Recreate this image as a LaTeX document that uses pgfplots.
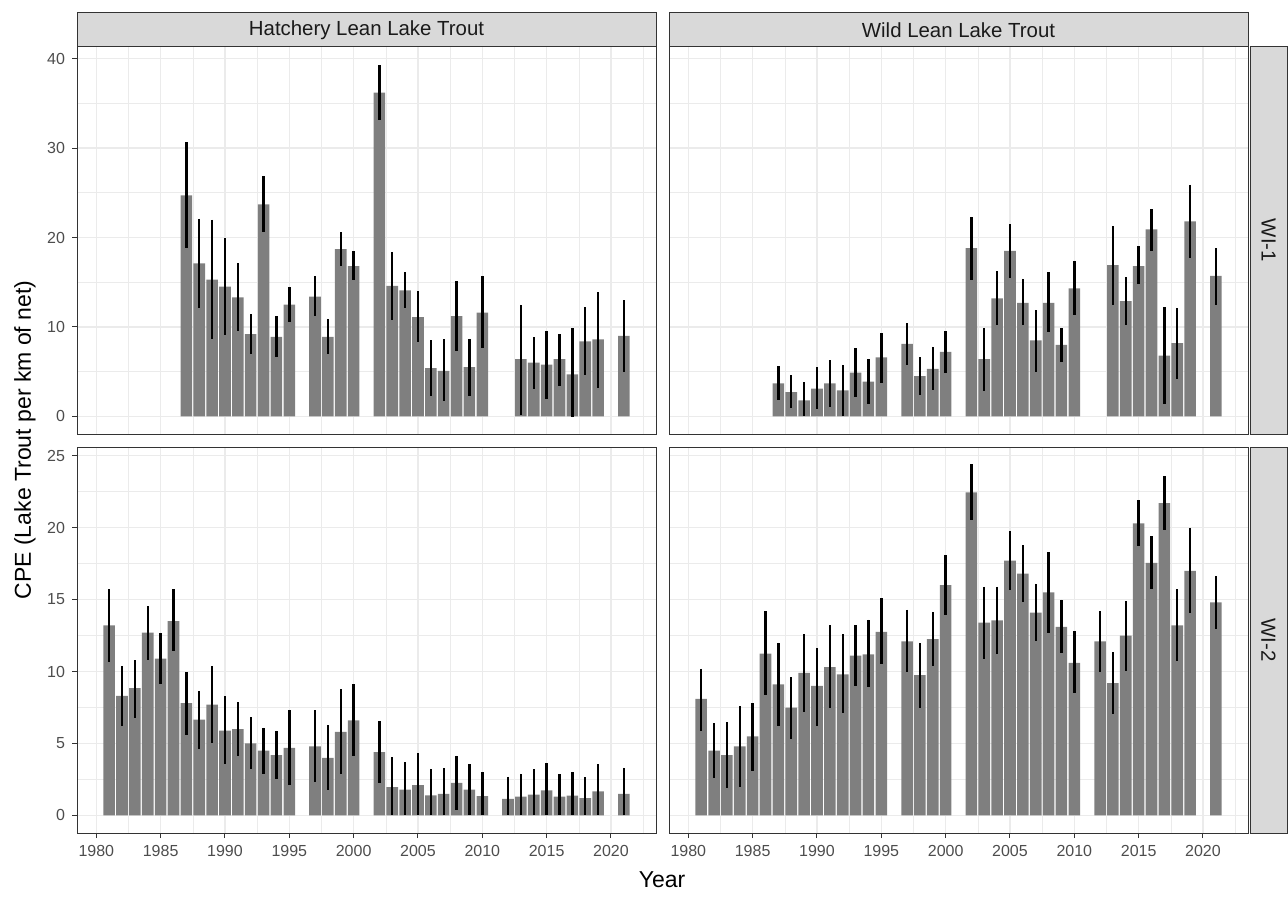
\documentclass[border=0pt]{standalone}
\usepackage{fontspec}
\setmainfont{Liberation Sans}
\usepackage{pgfplots}
\usepackage{pgfplotstable}
\pgfplotsset{compat=1.18}

\definecolor{barfill}{HTML}{7F7F7F}
\definecolor{gridc}{HTML}{EBEBEB}
\definecolor{borderc}{HTML}{333333}
\definecolor{stripc}{HTML}{D9D9D9}
\definecolor{stript}{HTML}{1A1A1A}
\definecolor{tickc}{HTML}{4D4D4D}

\pgfplotstableread{
yr v lo hi
1987 24.7 18.8 30.7
1988 17.1 12.1 22.1
1989 15.3 8.7 22.0
1990 14.5 9.1 19.9
1991 13.3 9.6 17.1
1992 9.2 7.0 11.4
1993 23.7 20.6 26.9
1994 8.9 6.6 11.2
1995 12.5 10.5 14.5
1997 13.4 11.2 15.7
1998 8.9 7.0 10.9
1999 18.7 16.8 20.6
2000 16.8 15.3 18.5
2002 36.2 33.1 39.3
2003 14.6 10.8 18.4
2004 14.1 12.1 16.1
2005 11.1 8.3 14.0
2006 5.4 2.3 8.5
2007 5.1 1.7 8.6
2008 11.2 7.3 15.1
2009 5.5 2.3 8.7
2010 11.6 7.7 15.7
2013 6.4 0.1 12.5
2014 6.0 3.1 8.9
2015 5.8 1.9 9.6
2016 6.4 3.4 9.2
2017 4.7 -0.1 9.9
2018 8.4 4.6 12.2
2019 8.6 3.2 13.9
2021 9.0 5.0 13.0
}\hlone

\pgfplotstableread{
yr v lo hi
1987 3.7 1.8 5.6
1988 2.7 0.9 4.6
1989 1.8 0.0 3.8
1990 3.1 0.8 5.5
1991 3.7 1.1 6.3
1992 2.9 0.0 5.8
1993 4.9 2.2 7.6
1994 3.9 1.4 6.4
1995 6.6 3.7 9.3
1997 8.1 5.7 10.4
1998 4.5 2.4 6.6
1999 5.3 3.0 7.8
2000 7.2 4.9 9.5
2002 18.8 15.2 22.3
2003 6.4 2.8 9.9
2004 13.2 10.2 16.2
2005 18.5 15.5 21.5
2006 12.7 10.2 15.4
2007 8.5 5.0 11.9
2008 12.7 9.4 16.1
2009 8.0 6.1 9.9
2010 14.3 11.3 17.4
2013 16.9 12.5 21.3
2014 12.9 10.2 15.6
2015 16.8 14.8 19.0
2016 20.9 18.5 23.2
2017 6.8 1.4 12.2
2018 8.2 4.2 12.1
2019 21.8 17.7 25.9
2021 15.7 12.5 18.8
}\wlone

\pgfplotstableread{
yr v lo hi
1981 13.2 10.65 15.7
1982 8.3 6.2 10.4
1983 8.85 6.8 10.8
1984 12.7 10.8 14.55
1985 10.9 9.15 12.7
1986 13.5 11.4 15.7
1987 7.8 5.6 9.95
1988 6.65 4.65 8.65
1989 7.7 5.0 10.4
1990 5.9 3.6 8.3
1991 6.0 4.1 7.9
1992 5.0 3.2 6.85
1993 4.5 2.9 6.1
1994 4.2 2.5 5.9
1995 4.7 2.1 7.35
1997 4.8 2.35 7.3
1998 4.0 1.75 6.3
1999 5.8 2.9 8.8
2000 6.6 4.1 9.1
2002 4.4 2.25 6.55
2003 1.97 0 4.05
2004 1.8 0 3.7
2005 2.1 0 4.35
2006 1.4 0 3.25
2007 1.5 0 3.3
2008 2.27 0.4 4.15
2009 1.8 0 3.55
2010 1.35 0 3.0
2012 1.15 0 2.7
2013 1.3 0 2.9
2014 1.45 0 3.2
2015 1.75 0 3.65
2016 1.3 0 2.85
2017 1.37 0 3.0
2018 1.2 0 2.65
2019 1.67 0 3.55
2021 1.5 0 3.33
}\hltwo

\pgfplotstableread{
yr v lo hi
1981 8.1 5.9 10.2
1982 4.5 2.6 6.4
1983 4.2 1.9 6.5
1984 4.8 2.0 7.6
1985 5.5 3.1 7.8
1986 11.25 8.4 14.2
1987 9.1 6.2 12.0
1988 7.5 5.3 9.6
1989 9.9 7.2 12.6
1990 9.0 6.25 11.65
1991 10.3 7.5 13.2
1992 9.8 7.1 12.6
1993 11.1 9.0 13.2
1994 11.2 8.9 13.6
1995 12.75 10.5 15.1
1997 12.1 9.95 14.3
1998 9.75 7.5 12.0
1999 12.25 10.4 14.15
2000 16.0 13.9 18.1
2002 22.45 20.5 24.4
2003 13.4 10.9 15.9
2004 13.55 11.2 15.9
2005 17.7 15.65 19.75
2006 16.8 14.85 18.8
2007 14.1 12.1 16.1
2008 15.5 12.7 18.3
2009 13.1 11.3 15.0
2010 10.6 8.5 12.8
2012 12.1 10.0 14.2
2013 9.2 7.05 11.35
2014 12.5 10.05 14.9
2015 20.3 18.7 21.9
2016 17.55 15.7 19.4
2017 21.7 19.8 23.6
2018 13.2 10.7 15.7
2019 17.0 14.05 20.0
2021 14.8 12.95 16.65
}\wltwo

\pgfplotsset{
  panel/.style={
    scale only axis,
    width=289.5pt,
    xmin=1978.5, xmax=2023.5,
    xtick={1980,1985,...,2020},
    minor xtick={1982.5,1987.5,...,2022.5},
    grid=both,
    major grid style={draw=gridc, line width=0.6pt},
    minor grid style={draw=gridc, line width=0.3pt},
    axis line style={draw=borderc, line width=0.5pt},
    tick align=outside,
    major tick length=2.5pt,
    minor tick length=0pt,
    tick style={draw=borderc, line width=0.5pt},
    xtick pos=bottom, ytick pos=left,
    ticklabel style={font=\fontsize{8}{9}\selectfont, text=tickc},
    /pgf/number format/assume math mode=true,
    x tick label style={/pgf/number format/1000 sep={}},
  },
  toprow/.style={
    height=193.5pt,
    ymin=-1.97, ymax=41.3,
    ytick={0,10,20,30,40},
    minor ytick={5,15,25,35},
    xticklabels={},
    xtick style={draw=none},
  },
  botrow/.style={
    height=193pt,
    ymin=-1.22, ymax=25.6,
    ytick={0,5,10,15,20,25},
    minor ytick={2.5,7.5,12.5,17.5,22.5},
  },
  rightcol/.style={
    yticklabels={},
    ytick style={draw=none},
  },
  barplot/.style={
    ybar, bar width=0.9, fill=barfill, draw=none,
    error bars/.cd, y dir=both, y explicit, error mark=none,
    error bar style={draw=black, line width=1.2pt},
  },
}

\newcommand{\bars}[1]{\addplot[barplot] table[x=yr, y=v,
  y error plus expr=\thisrow{hi}-\thisrow{v},
  y error minus expr=\thisrow{v}-\thisrow{lo}] {#1};}

\begin{document}
\begin{tikzpicture}
\useasboundingbox (0pt,0pt) rectangle (644pt,448pt);

\begin{axis}[panel, toprow, at={(38.5pt,231pt)}, anchor=south west]
\bars{\hlone}
\end{axis}
\begin{axis}[panel, toprow, rightcol, at={(334.5pt,231pt)}, anchor=south west]
\bars{\wlone}
\end{axis}
\begin{axis}[panel, botrow, at={(38.5pt,31.5pt)}, anchor=south west]
\bars{\hltwo}
\end{axis}
\begin{axis}[panel, botrow, rightcol, at={(334.5pt,31.5pt)}, anchor=south west]
\bars{\wltwo}
\end{axis}

% facet strips
\draw[draw=borderc, fill=stripc, line width=0.5pt] (38.5pt,424.7pt) rectangle (328pt,441.5pt);
\node[text=stript, font=\fontsize{10.2}{12}\selectfont] at (183.25pt,433.1pt) {Hatchery Lean Lake Trout};
\draw[draw=borderc, fill=stripc, line width=0.5pt] (334.5pt,424.7pt) rectangle (624pt,441.5pt);
\node[text=stript, font=\fontsize{10.2}{12}\selectfont] at (479.25pt,433.1pt) {Wild Lean Lake Trout};
\draw[draw=borderc, fill=stripc, line width=0.5pt] (625pt,231pt) rectangle (643.5pt,424.5pt);
\node[text=stript, rotate=-90, font=\fontsize{10.2}{12}\selectfont] at (634.25pt,327.75pt) {WI-1};
\draw[draw=borderc, fill=stripc, line width=0.5pt] (625pt,31.5pt) rectangle (643.5pt,224.5pt);
\node[text=stript, rotate=-90, font=\fontsize{10.2}{12}\selectfont] at (634.25pt,128pt) {WI-2};

% axis titles
\node[font=\fontsize{11.5}{13}\selectfont] at (331pt,8pt) {Year};
\node[rotate=90, font=\fontsize{11.5}{13}\selectfont] at (12.5pt,228pt) {CPE (Lake Trout per km of net)};
\end{tikzpicture}
\end{document}
